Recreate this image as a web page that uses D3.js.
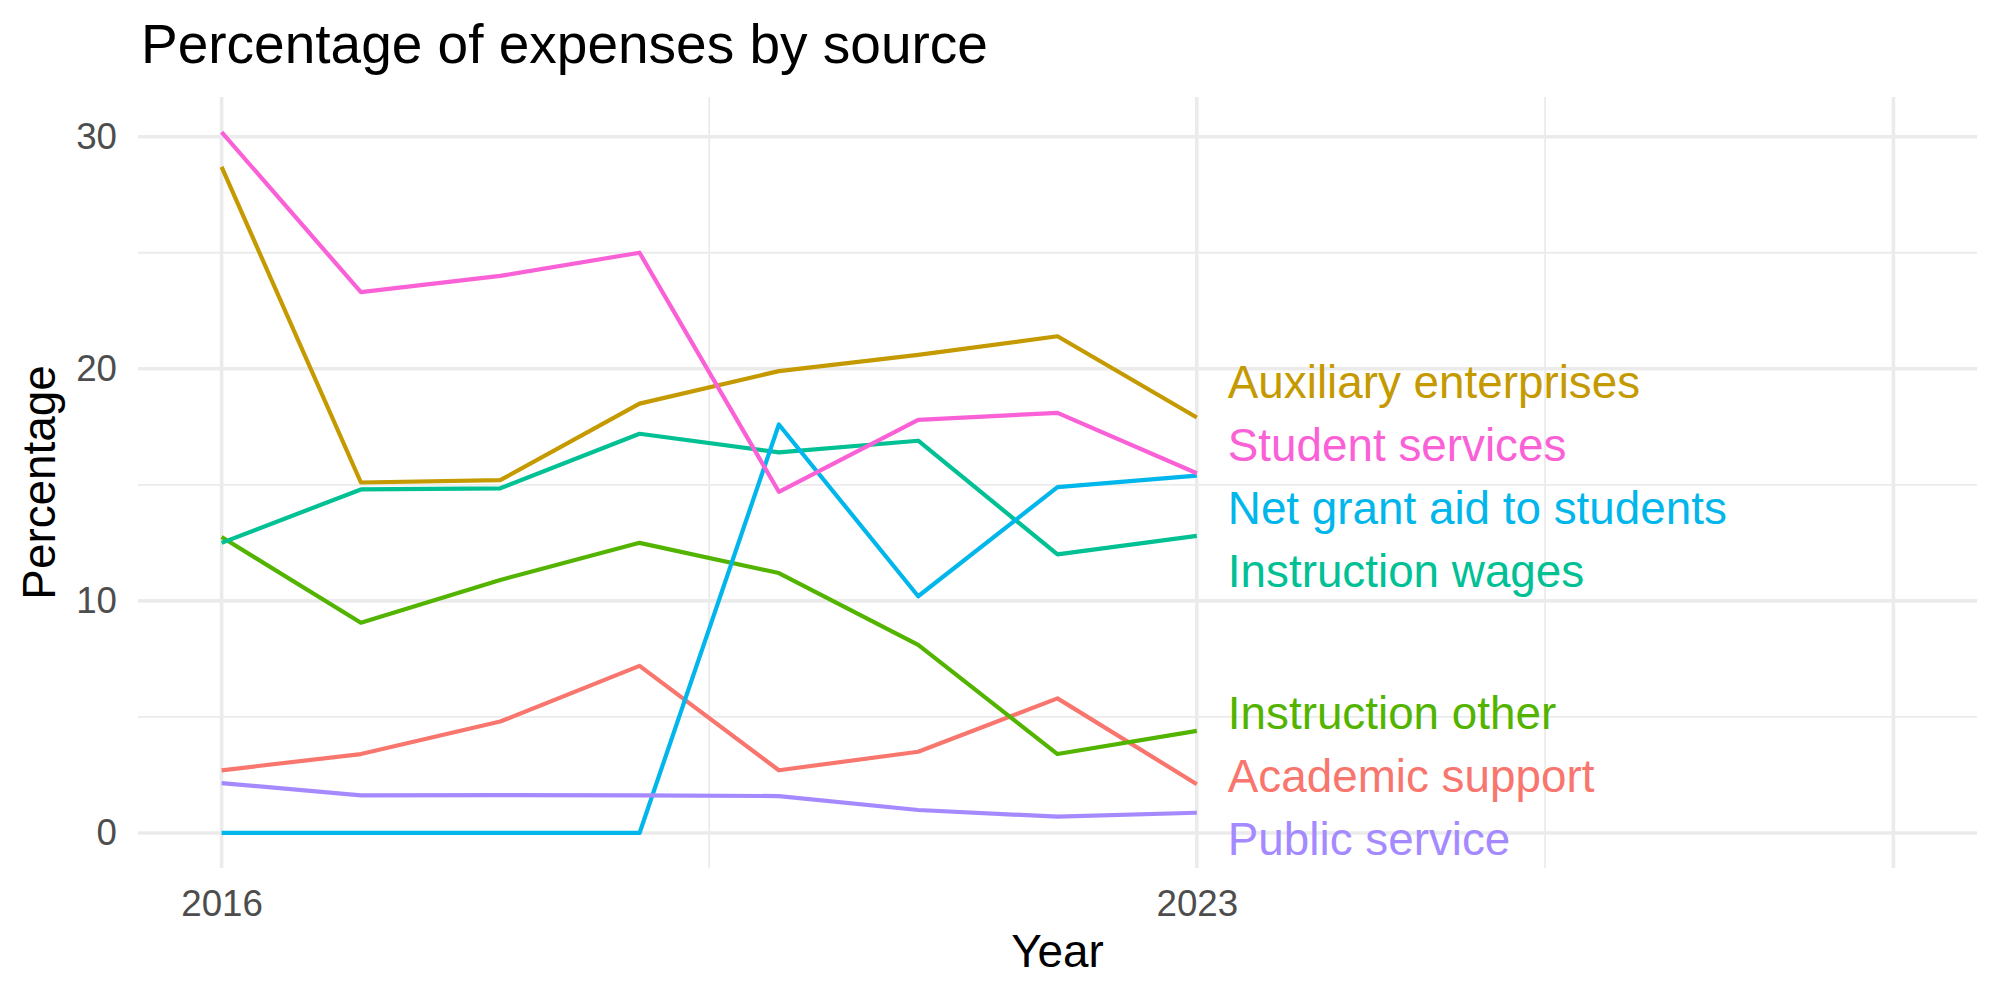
<!DOCTYPE html>
<html lang="en">
<head>
<meta charset="utf-8">
<title>Percentage of expenses by source</title>
<script src="https://d3js.org/d3.v7.min.js"></script>
<style>
  body { margin: 0; background: #fff; }
  svg { display: block; font-family: "Liberation Sans", Arial, Helvetica, sans-serif; }
</style>
</head>
<body>
<script>
// data
const years = [2016, 2017, 2018, 2019, 2020, 2021, 2022, 2023];

const academicSupport      = [2.7, 3.4, 4.8, 7.2, 2.7, 3.5, 5.8, 2.1];
const auxiliaryEnterprises = [28.7, 15.1, 15.2, 18.5, 19.9, 20.6, 21.4, 17.9];
const instructionOther     = [12.75, 9.06, 10.9, 12.5, 11.2, 8.1, 3.4, 4.4];
const instructionWages     = [12.5, 14.8, 14.85, 17.2, 16.4, 16.9, 12.0, 12.8];
const netGrantAid          = [0, 0, 0, 0, 17.6, 10.2, 14.9, 15.4];
const publicService        = [2.15, 1.62, 1.63, 1.62, 1.59, 0.99, 0.70, 0.87];
const studentServices      = [30.2, 23.3, 24.0, 25.0, 14.7, 17.8, 18.1, 15.5];

const seriesNames = ["Academic support", "Auxiliary enterprises", "Instruction other",
  "Instruction wages", "Net grant aid to students", "Public service", "Student services"];
const seriesValues = [academicSupport, auxiliaryEnterprises, instructionOther,
  instructionWages, netGrantAid, publicService, studentServices];

// axis breaks
const xLimits = [2016, 2028];          // x extent kept free for the end labels
const xMajor = [2016, 2023, 2028];
const xMinor = [2019.5, 2025.5];
const xLabels = [2016, 2023];
const yMajor = [0, 10, 20, 30];
const yMinor = [5, 15, 25];

const W = 2000, H = 1000;
const panel = {left: 138, right: 1977, top: 97, bottom: 868};
const color = d3.scaleOrdinal()
  .domain(seriesNames)
  .range(["#F8766D", "#C49A00", "#53B400", "#00C094", "#00B6EB", "#A58AFF", "#FB61D7"]);

const svg = d3.select("body").append("svg")
  .attr("width", W)
  .attr("height", H);

// scales, with the usual 5% padding round the data
const xPad = (xLimits[1] - xLimits[0]) * 0.05;
const xScale = d3.scaleLinear()
  .domain([xLimits[0] - xPad, xLimits[1] + xPad])
  .range([panel.left, panel.right]);

const allVals = seriesValues.flat();
const yMin = d3.min(allVals), yMax = d3.max(allVals);
const yPad = (yMax - yMin) * 0.05;
const yScale = d3.scaleLinear()
  .domain([yMin - yPad, yMax + yPad])
  .range([panel.bottom, panel.top]);

// grid
const grid = svg.append("g").attr("stroke", "#EBEBEB").attr("fill", "none");
grid.selectAll(".ymin").data(yMinor).enter().append("line")
  .attr("x1", panel.left).attr("x2", panel.right)
  .attr("y1", d => yScale(d)).attr("y2", d => yScale(d))
  .attr("stroke-width", 1.8);
grid.selectAll(".xmin").data(xMinor).enter().append("line")
  .attr("y1", panel.top).attr("y2", panel.bottom)
  .attr("x1", d => xScale(d)).attr("x2", d => xScale(d))
  .attr("stroke-width", 1.8);
grid.selectAll(".ymaj").data(yMajor).enter().append("line")
  .attr("x1", panel.left).attr("x2", panel.right)
  .attr("y1", d => yScale(d)).attr("y2", d => yScale(d))
  .attr("stroke-width", 3.6);
grid.selectAll(".xmaj").data(xMajor).enter().append("line")
  .attr("y1", panel.top).attr("y2", panel.bottom)
  .attr("x1", d => xScale(d)).attr("x2", d => xScale(d))
  .attr("stroke-width", 3.6);

// axes (text only, like theme_minimal)
const yAxis = d3.axisLeft(yScale).tickValues(yMajor).tickSize(0).tickPadding(21);
const gy = svg.append("g").attr("transform", "translate(" + panel.left + ",0)").call(yAxis);
const xAxis = d3.axisBottom(xScale).tickValues(xLabels).tickFormat(d3.format("d")).tickSize(0).tickPadding(22);
const gx = svg.append("g").attr("transform", "translate(0," + panel.bottom + ")").call(xAxis);
[gx, gy].forEach(g => {
  g.select(".domain").remove();
  g.selectAll("text")
    .style("font-family", "'Liberation Sans', Arial, sans-serif")
    .style("font-size", "36.7px")
    .attr("fill", "#4D4D4D");
});

// lines
const line = d3.line()
  .x((d, i) => xScale(years[i]))
  .y(d => yScale(d));

svg.append("g").selectAll("path")
  .data(seriesValues)
  .enter().append("path")
  .attr("d", d => line(d))
  .attr("fill", "none")
  .attr("stroke", (d, i) => color(seriesNames[i]))
  .attr("stroke-width", 4.2)
  .attr("stroke-linejoin", "round");

// end labels, pushed apart so they don't overlap (simple repel)
const gap = 63;
let labels = seriesNames.map((name, i) => ({
  name: name,
  target: yScale(seriesValues[i][seriesValues[i].length - 1])
})).sort((a, b) => a.target - b.target);

let clusters = labels.map(l => ({items: [l], center: l.target}));
let moved = true;
while (moved) {
  moved = false;
  for (let i = 0; i < clusters.length - 1; i++) {
    const a = clusters[i], b = clusters[i + 1];
    const aBottom = a.center + (a.items.length - 1) / 2 * gap;
    const bTop = b.center - (b.items.length - 1) / 2 * gap;
    if (bTop - aBottom < gap) {
      const items = a.items.concat(b.items);
      clusters.splice(i, 2, {items: items, center: d3.mean(items, d => d.target)});
      moved = true;
      break;
    }
  }
}
clusters.forEach(c => {
  c.items.forEach((l, k) => { l.y = c.center + (k - (c.items.length - 1) / 2) * gap; });
});

svg.append("g").selectAll("text")
  .data(labels)
  .enter().append("text")
  .attr("x", xScale(years[years.length - 1]) + 31)
  .attr("y", d => d.y)
  .attr("dy", "0.36em")
  .attr("fill", d => color(d.name))
  .style("font-size", "45.8px")
  .text(d => d.name);

// titles
svg.append("text")
  .attr("x", 141)
  .attr("y", 63)
  .style("font-size", "55px")
  .attr("fill", "#000")
  .text("Percentage of expenses by source");

svg.append("text")
  .attr("x", (panel.left + panel.right) / 2)
  .attr("y", 967)
  .attr("text-anchor", "middle")
  .style("font-size", "45.8px")
  .attr("fill", "#000")
  .text("Year");

svg.append("text")
  .attr("transform", "translate(55," + (panel.top + panel.bottom) / 2 + ") rotate(-90)")
  .attr("text-anchor", "middle")
  .style("font-size", "45.8px")
  .attr("fill", "#000")
  .text("Percentage");
</script>
</body>
</html>
